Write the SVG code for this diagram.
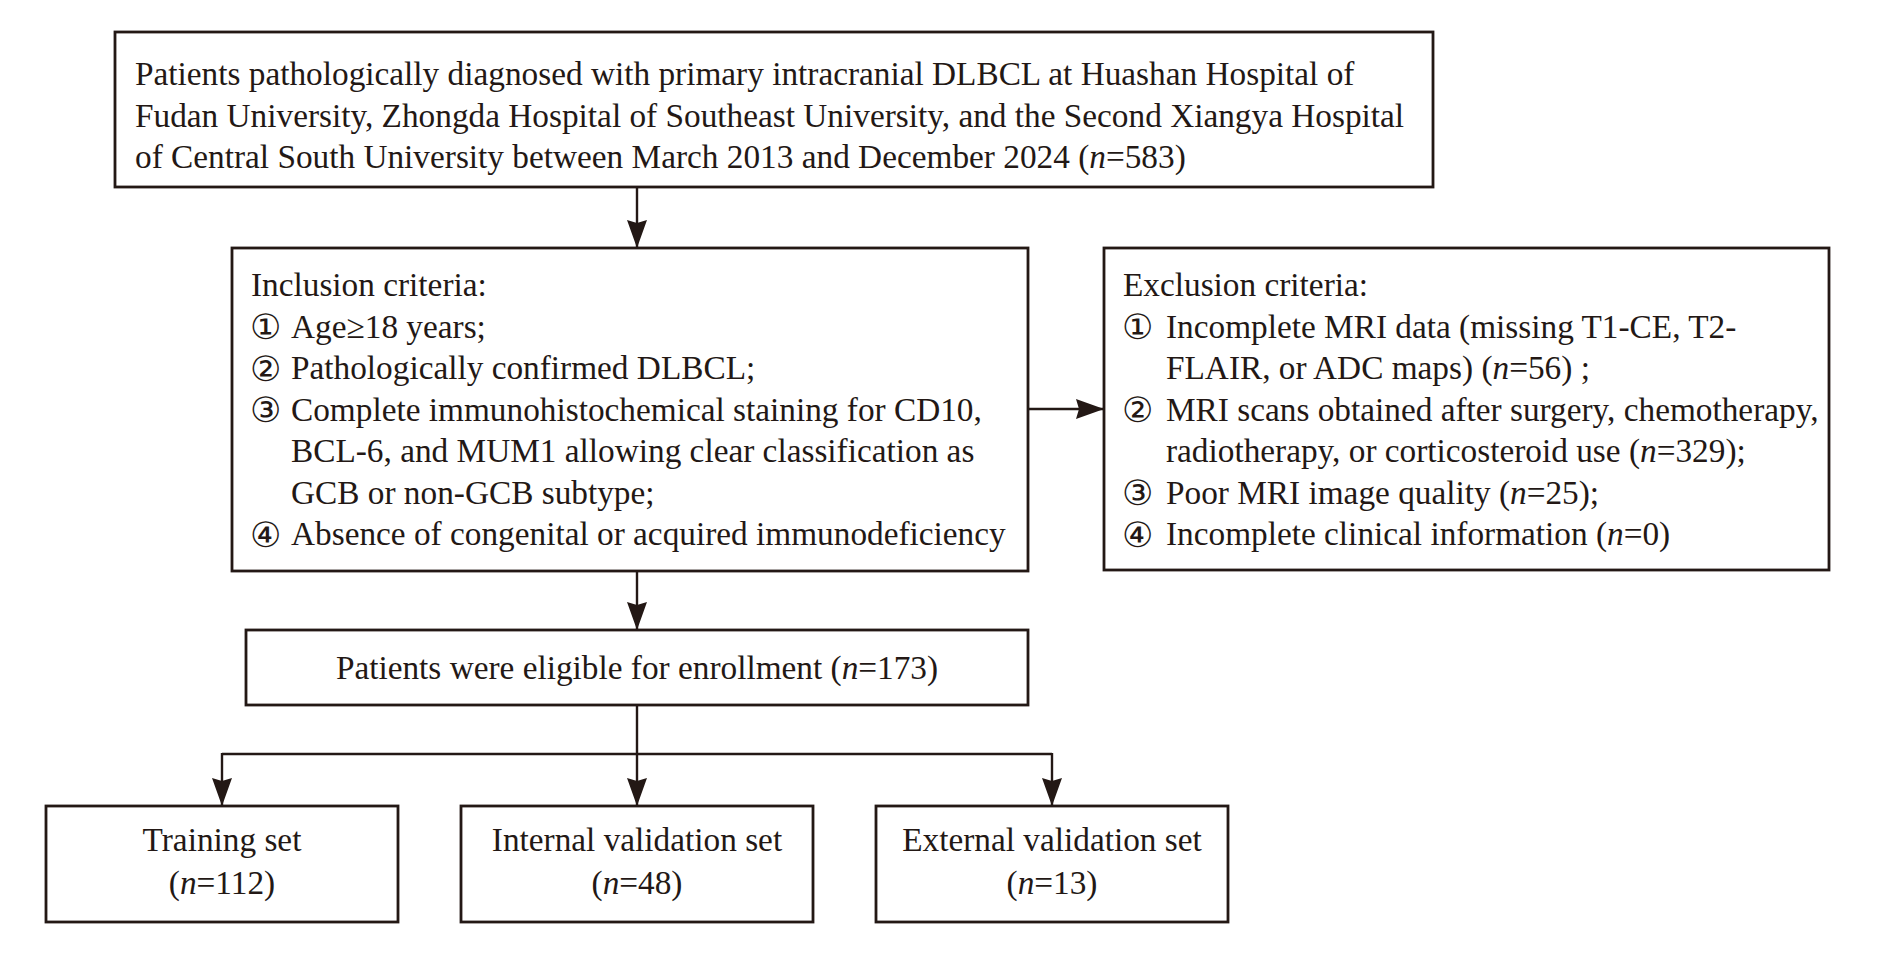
<svg xmlns="http://www.w3.org/2000/svg" width="1901" height="953" viewBox="0 0 1901 953">
<style>
.box{fill:#fff;stroke:#231815;stroke-width:2.8}
.t{font-family:"Liberation Serif","Times New Roman",serif;font-size:33.3px;fill:#231815}
.c{font-family:"DejaVu Sans","Noto Sans CJK SC",sans-serif;font-size:35px;fill:#231815}
.mid{text-anchor:middle}
.ln{fill:none;stroke:#231815;stroke-width:2.4}
</style>
<defs>
<marker id="ah" markerUnits="userSpaceOnUse" markerWidth="30" markerHeight="22" refX="28" refY="10" orient="auto">
<path d="M0,0 L28,10 L0,20 L3,10 z" fill="#231815"/>
</marker>
</defs>
<rect width="1901" height="953" fill="#fff"/>
<g id="connectors">
<path class="ln" d="M637,187 L637,248" marker-end="url(#ah)"/>
<path class="ln" d="M637,571 L637,630" marker-end="url(#ah)"/>
<path class="ln" d="M1028,409 L1104,409" marker-end="url(#ah)"/>
<path class="ln" d="M637,705 L637,754 M222,754 L1052,754"/>
<path class="ln" d="M222,753 L222,806" marker-end="url(#ah)"/>
<path class="ln" d="M637,753 L637,806" marker-end="url(#ah)"/>
<path class="ln" d="M1052,753 L1052,806" marker-end="url(#ah)"/>
</g>
<g id="source">
<rect class="box" x="115" y="32" width="1318" height="155"/>
<text class="t" x="135" y="85">Patients pathologically diagnosed with primary intracranial DLBCL at Huashan Hospital of</text>
<text class="t" x="135" y="126.5">Fudan University, Zhongda Hospital of Southeast University, and the Second Xiangya Hospital</text>
<text class="t" x="135" y="168">of Central South University between March 2013 and December 2024 (<tspan font-style="italic">n</tspan>=583)</text>
</g>
<g id="inclusion">
<rect class="box" x="232" y="248" width="796" height="323"/>
<text class="t" x="251" y="296">Inclusion criteria:</text>
<text class="c" x="250" y="339">①</text>
<text class="t" x="291" y="337.5">Age≥18 years;</text>
<text class="c" x="250" y="380.5">②</text>
<text class="t" x="291" y="379">Pathologically confirmed DLBCL;</text>
<text class="c" x="250" y="422">③</text>
<text class="t" x="291" y="420.5">Complete immunohistochemical staining for CD10,</text>
<text class="t" x="291" y="462">BCL-6, and MUM1 allowing clear classification as</text>
<text class="t" x="291" y="503.5">GCB or non-GCB subtype;</text>
<text class="c" x="250" y="546.5">④</text>
<text class="t" x="291" y="545">Absence of congenital or acquired immunodeficiency</text>
</g>
<g id="exclusion">
<rect class="box" x="1104" y="248" width="725" height="322"/>
<text class="t" x="1123" y="296">Exclusion criteria:</text>
<text class="c" x="1122" y="339">①</text>
<text class="t" x="1166" y="337.5">Incomplete MRI data (missing T1-CE, T2-</text>
<text class="t" x="1166" y="379">FLAIR, or ADC maps) (<tspan font-style="italic">n</tspan>=56) ;</text>
<text class="c" x="1122" y="422">②</text>
<text class="t" x="1166" y="420.5">MRI scans obtained after surgery, chemotherapy,</text>
<text class="t" x="1166" y="462">radiotherapy, or corticosteroid use (<tspan font-style="italic">n</tspan>=329);</text>
<text class="c" x="1122" y="505">③</text>
<text class="t" x="1166" y="503.5">Poor MRI image quality (<tspan font-style="italic">n</tspan>=25);</text>
<text class="c" x="1122" y="546.5">④</text>
<text class="t" x="1166" y="545">Incomplete clinical information (<tspan font-style="italic">n</tspan>=0)</text>
</g>
<g id="eligible">
<rect class="box" x="246" y="630" width="782" height="75"/>
<text class="t mid" x="637" y="679">Patients were eligible for enrollment (<tspan font-style="italic">n</tspan>=173)</text>
</g>
<g id="training">
<rect class="box" x="46" y="806" width="352" height="116"/>
<text class="t mid" x="222" y="851">Training set</text>
<text class="t mid" x="222" y="894">(<tspan font-style="italic">n</tspan>=112)</text>
</g>
<g id="internal">
<rect class="box" x="461" y="806" width="352" height="116"/>
<text class="t mid" x="637" y="851">Internal validation set</text>
<text class="t mid" x="637" y="894">(<tspan font-style="italic">n</tspan>=48)</text>
</g>
<g id="external">
<rect class="box" x="876" y="806" width="352" height="116"/>
<text class="t mid" x="1052" y="851">External validation set</text>
<text class="t mid" x="1052" y="894">(<tspan font-style="italic">n</tspan>=13)</text>
</g>
</svg>
